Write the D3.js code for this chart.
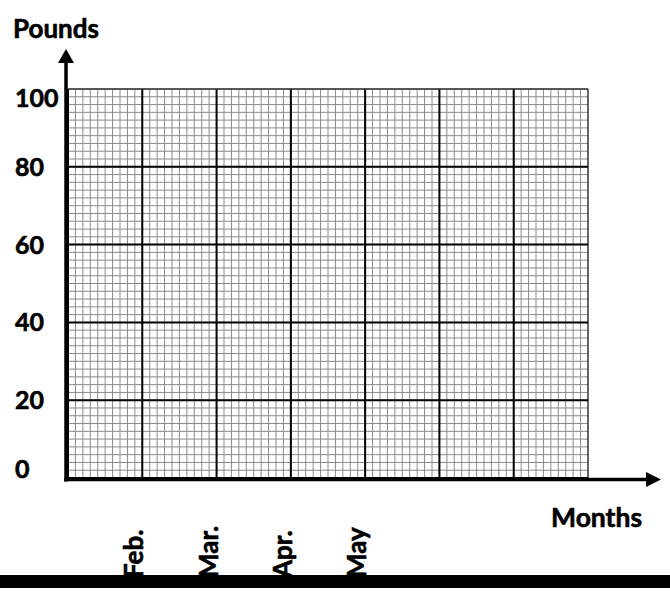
<!DOCTYPE html>
<html>
<head>
<meta charset="utf-8">
<script src="https://cdn.jsdelivr.net/npm/d3@7"></script>
<style>
  html, body { margin: 0; padding: 0; background: #fff; }
  svg { display: block; }
  text { font-family: Lato, "Open Sans", sans-serif; font-weight: bold; fill: #000; stroke: #000; stroke-width: 0.6px; }
</style>
</head>
<body>
<svg id="chart" width="670" height="592"></svg>
<script>
// ---- data ----
const monthLabels = ["Feb.", "Mar.", "Apr.", "May"];
const monthIndex = [1, 2, 3, 4];          // column line each month label sits on
const columnCount = 7;                     // major columns on the grid paper
const yTicks = [0, 20, 40, 60, 80, 100];   // pound tick labels
const yMax = 100;
const minorPerMajor = 10;
const yTitle = "Pounds";
const xTitle = "Months";

// ---- layout ----
const gx0 = 68, gx1 = 588, gy0 = 89, gy1 = 478;
const svg = d3.select("#chart");

const x = d3.scaleLinear().domain([0, columnCount]).range([gx0, gx1]);
const y = d3.scaleLinear().domain([0, yMax]).range([gy1, gy0]);

// minor grid
const xMinor = d3.range(0, columnCount * minorPerMajor + 1).map(i => i / minorPerMajor);
const yStep = (yTicks[1] - yTicks[0]) / minorPerMajor;
const yMinor = d3.range(0, yMax / yStep + 1).map(i => i * yStep);

const grid = svg.append("g");
grid.selectAll("line.vmin").data(xMinor).join("line")
  .attr("x1", d => x(d)).attr("x2", d => x(d))
  .attr("y1", gy0).attr("y2", gy1)
  .attr("stroke", "#8a8a8a").attr("stroke-width", 1);
grid.selectAll("line.hmin").data(yMinor).join("line")
  .attr("y1", d => y(d)).attr("y2", d => y(d))
  .attr("x1", gx0).attr("x2", gx1)
  .attr("stroke", "#8a8a8a").attr("stroke-width", 1);

// major grid
const xMajor = d3.range(0, columnCount + 1);
grid.selectAll("line.vmaj").data(xMajor).join("line")
  .attr("x1", d => x(d)).attr("x2", d => x(d))
  .attr("y1", gy0).attr("y2", gy1)
  .attr("stroke", d => d === columnCount ? "#333" : "#000")
  .attr("stroke-width", d => d === columnCount ? 1.3 : 2);
grid.selectAll("line.hmaj").data(yTicks).join("line")
  .attr("y1", d => y(d)).attr("y2", d => y(d))
  .attr("x1", gx0).attr("x2", gx1)
  .attr("stroke", d => d === yMax ? "#333" : "#000")
  .attr("stroke-width", d => d === yMax ? 1.3 : 2);

// axes with arrows
const axX = 66, axY = 479.5;
svg.append("line").attr("x1", axX).attr("x2", axX).attr("y1", axY + 2).attr("y2", 60)
  .attr("stroke", "#000").attr("stroke-width", 3.5);
svg.append("path").attr("d", `M${axX},49 L${axX - 8},63 L${axX + 8},63 Z`).attr("fill", "#000");
svg.append("line").attr("x1", axX - 2).attr("x2", 650).attr("y1", axY).attr("y2", axY)
  .attr("stroke", "#000").attr("stroke-width", 3.5);
svg.append("path").attr("d", `M661,${axY} L646,${axY - 7.5} L646,${axY + 7.5} Z`).attr("fill", "#000");

// y tick labels (kept inside the grid extent)
svg.selectAll("text.ytick").data(yTicks).join("text")
  .attr("x", 15)
  .attr("y", d => Math.min(Math.max(y(d), gy0 + 9), gy1 - 9))
  .attr("dy", "0.36em")
  .attr("font-size", 25)
  .text(d => d);

// titles
svg.append("text").attr("x", 13).attr("y", 38).attr("font-size", 26).text(yTitle);
svg.append("text").attr("x", 551).attr("y", 527).attr("font-size", 26.5).text(xTitle);

// month labels (rotated)
svg.selectAll("text.month").data(monthLabels).join("text")
  .attr("transform", (d, i) => `translate(${x(monthIndex[i]) + 1},578) rotate(-90)`)
  .attr("font-size", 26)
  .text(d => d);

// bottom bar
svg.append("rect").attr("x", 0).attr("y", 575).attr("width", 670).attr("height", 13).attr("fill", "#000");
</script>
</body>
</html>
